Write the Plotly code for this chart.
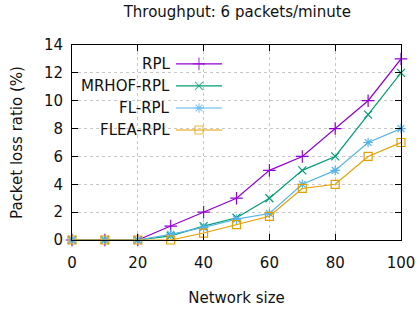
import plotly.graph_objects as go

network_size = [0, 10, 20, 30, 40, 50, 60, 70, 80, 90, 100]
rpl = [0, 0, 0, 1, 2, 3, 5, 6, 8, 10, 13]
mrhof_rpl = [0, 0, 0, 0.3, 1.0, 1.6, 3, 5, 6, 9, 12]
fl_rpl = [0, 0, 0, 0.4, 0.9, 1.5, 1.9, 4, 5, 7, 8]
flea_rpl = [0, 0, 0, 0, 0.5, 1.1, 1.7, 3.7, 4, 6, 7]

series_names = ["RPL", "MRHOF-RPL", "FL-RPL", "FLEA-RPL"]
series_values = [rpl, mrhof_rpl, fl_rpl, flea_rpl]
colors = ["#9400d3", "#009e73", "#56b4e9", "#e69f00"]
symbols = ["cross-thin-open", "x-thin-open", "asterisk-open", "square-open"]
sizes = [9, 8, 8, 8]

FONT = "DejaVu Sans"
FS = 15
fig = go.Figure()

for name, vals, c, s, sz in zip(series_names, series_values, colors, symbols, sizes):
    fig.add_trace(go.Scatter(
        x=network_size, y=vals, mode="lines+markers", name=name,
        line=dict(color=c, width=1.2),
        marker=dict(symbol=s, size=sz, color=c, line=dict(color=c, width=1.2)),
        cliponaxis=False, showlegend=False,
    ))

# custom gnuplot-style legend (text right-aligned, sample to the right)
leg_y = [0.903, 0.790, 0.677, 0.564]
for name, c, s, sz, yy in zip(series_names, colors, symbols, sizes, leg_y):
    fig.add_trace(go.Scatter(
        x=[0.316, 0.386, 0.456], y=[yy, yy, yy], xaxis="x2", yaxis="y2",
        mode="lines+markers", line=dict(color=c, width=1.2),
        marker=dict(symbol=s, size=[0, sz, 0], color=c, line=dict(color=c, width=1.2)),
        showlegend=False, hoverinfo="skip",
    ))
    fig.add_annotation(x=0.303, y=yy, xref="paper", yref="paper", text=name,
                       showarrow=False, xanchor="right", yanchor="middle",
                       font=dict(family=FONT, size=FS, color="#111"))

axis_common = dict(
    showline=True, linecolor="black", linewidth=1, mirror="allticks",
    ticks="inside", ticklen=6, tickcolor="black",
    showgrid=True, gridcolor="#c8c8c8", griddash="dot", gridwidth=1,
    zeroline=False, tickfont=dict(family=FONT, size=FS, color="#111"),
    automargin=False,
)

fig.update_layout(
    width=420, height=311,
    margin=dict(l=72, r=19, t=45, b=71),
    paper_bgcolor="white", plot_bgcolor="white",
    title=dict(text="Throughput: 6 packets/minute", x=0.565, xanchor="center",
               y=0.963, yanchor="middle", font=dict(family=FONT, size=FS, color="#111")),
    xaxis=dict(range=[0, 100], tickvals=[0, 20, 40, 60, 80, 100], ticklabelstandoff=9,
               title=dict(text="Network size", font=dict(family=FONT, size=FS, color="#111"), standoff=21),
               **axis_common),
    yaxis=dict(range=[0, 14], tickvals=[0, 2, 4, 6, 8, 10, 12, 14], ticklabelstandoff=5,
               title=dict(text="Packet loss ratio (%)", font=dict(family=FONT, size=FS, color="#111"), standoff=17),
               **axis_common),
    xaxis2=dict(range=[0, 1], overlaying="x", visible=False, anchor="y2"),
    yaxis2=dict(range=[0, 1], overlaying="y", visible=False, anchor="x2"),
)

fig.write_html("out.html", config={"displayModeBar": False},
               post_script="document.body.style.margin='0';")
